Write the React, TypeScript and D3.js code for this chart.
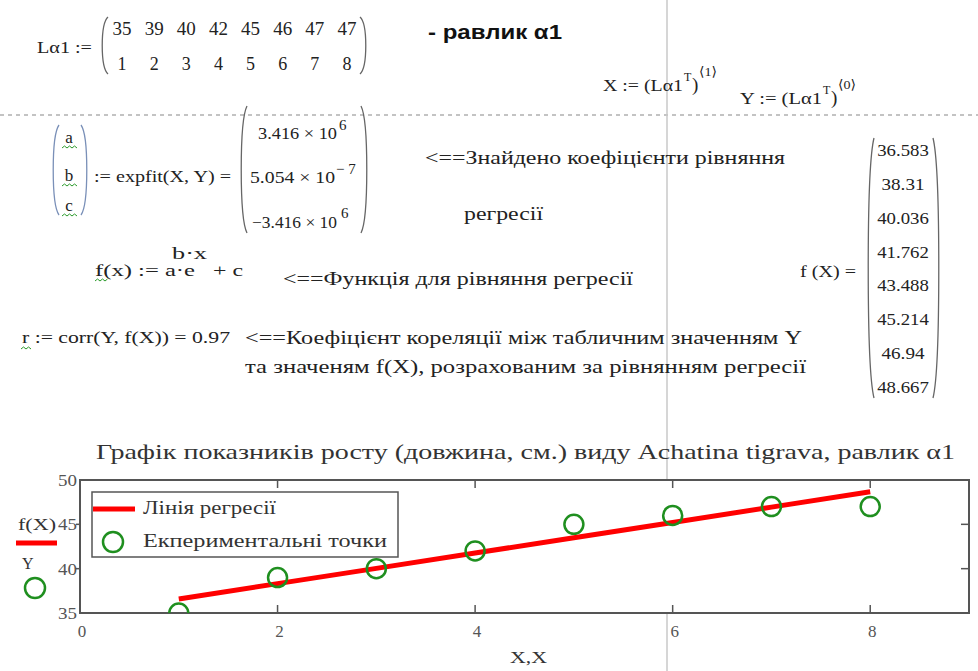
import React from "react";
import * as d3 from "d3";

const xValues = [1, 2, 3, 4, 5, 6, 7, 8];
const yValues = [35, 39, 40, 42, 45, 46, 47, 47];
const fitValues = [36.583, 38.31, 40.036, 41.762, 43.488, 45.214, 46.94, 48.667];
const fitLabels = ["36.583", "38.31", "40.036", "41.762", "43.488", "45.214", "46.94", "48.667"];
const xTicks = [0, 2, 4, 6, 8];
const yTicks = [35, 40, 45, 50];
const coefMantissa = ["3.416 × 10", "5.054 × 10", "\u22123.416 × 10"];
const coefExp = ["6", "\u2212 7", "6"];

const SERIF = "'Liberation Serif', 'DejaVu Serif', serif";
const SANS = "'Liberation Sans', Arial, sans-serif";
const INK = "#222";

function paren(x: number, y0: number, y1: number, left: boolean) {
  const w = left ? 7 : -7;
  const h = y1 - y0;
  return `M${x + w},${y0} C${x - w * 0.1},${y0 + h * 0.12} ${x - w * 0.1},${y1 - h * 0.12} ${x + w},${y1}`;
}

function wavy(x: number, y: number, w: number) {
  let d = `M${x},${y}`;
  const n = Math.round(w / 2.5);
  for (let i = 1; i <= n; i++) d += ` L${x + i * 2.5},${y + (i % 2 ? -2 : 0)}`;
  return d;
}

type TP = {
  x: number;
  y: number;
  s: number;
  len?: number;
  anchor?: "start" | "middle" | "end";
  fill?: string;
  weight?: string;
  family?: string;
  children: React.ReactNode;
};

function T({ x, y, s, len, anchor, fill, weight, family, children }: TP) {
  return (
    <text
      x={x}
      y={y}
      fontSize={s}
      textAnchor={anchor || "start"}
      fill={fill || INK}
      fontWeight={weight}
      fontFamily={family}
      textLength={len}
      lengthAdjust={len ? "spacingAndGlyphs" : undefined}
    >
      {children}
    </text>
  );
}

export default function App() {
  const xs = d3.scaleLinear().domain([0, 9]).range([80, 969]);
  const ys = d3.scaleLinear().domain([35, 50]).range([613, 480]);
  const line = d3
    .line<number>()
    .x((_, i) => xs(xValues[i]))
    .y((d) => ys(d));

  const matCol = d3.scaleLinear().domain([0, 7]).range([122, 347]);
  const fitRow = d3.scaleLinear().domain([0, 7]).range([156, 393]);
  const axisColor = "#555";
  const green = "#1f8f1f";

  return (
    <svg
      width={978}
      height={671}
      style={{ position: "absolute", left: 0, top: 0, background: "#fff" }}
      fontFamily={SERIF}
    >
      <rect x={0} y={0} width={978} height={671} fill="#fff" />

      {/* page separators */}
      <line x1={0} x2={978} y1={115} y2={115} stroke="#b0b0b0" strokeWidth={1.5} strokeDasharray="4,4" />
      <line x1={667} x2={667} y1={0} y2={671} stroke="#c8c8c8" strokeWidth={1.5} />

      {/* L matrix */}
      <T x={37} y={53} s={17} len={55}>Lα1 :=</T>
      <path d={paren(101, 17, 74, true)} fill="none" stroke="#666" strokeWidth={1.3} />
      <path d={paren(367, 17, 74, false)} fill="none" stroke="#666" strokeWidth={1.3} />
      {yValues.map((v, i) => (
        <T key={"r1" + i} x={matCol(i)} y={35} s={18} len={19} anchor="middle">{v}</T>
      ))}
      {xValues.map((v, i) => (
        <T key={"r2" + i} x={matCol(i)} y={70} s={18} anchor="middle">{v}</T>
      ))}

      <T x={428} y={39} s={21} len={134} weight="bold" family={SANS} fill="#111">- равлик α1</T>

      {/* X := (Lα1^T)^<1> */}
      <T x={603} y={91} s={17} len={80}>X := (Lα1</T>
      <T x={684} y={81} s={12}>T</T>
      <T x={692} y={91} s={19}>)</T>
      <T x={699} y={76} s={13} len={18}>⟨1⟩</T>
      {/* Y := (Lα1^T)^<0> */}
      <T x={740} y={104} s={17} len={82}>Y := (Lα1</T>
      <T x={823} y={94} s={12}>T</T>
      <T x={831} y={104} s={19}>)</T>
      <T x={838} y={89} s={13} len={18}>⟨0⟩</T>

      {/* coefficients */}
      <path d={paren(52, 125, 215, true)} fill="none" stroke="#7a90b8" strokeWidth={1.3} />
      <path d={paren(88, 125, 215, false)} fill="none" stroke="#7a90b8" strokeWidth={1.3} />
      {["a", "b", "c"].map((t, i) => (
        <g key={t}>
          <T x={69} y={[143, 181, 211][i]} s={17} anchor="middle">{t}</T>
          <path d={wavy(62, [148, 186, 216][i], 14)} fill="none" stroke="#2a9a2a" strokeWidth={1} />
        </g>
      ))}
      <T x={94} y={182} s={16} len={137}>:= expfit(X, Y) =</T>
      <path d={paren(240, 106, 233, true)} fill="none" stroke="#666" strokeWidth={1.3} />
      <path d={paren(368, 106, 233, false)} fill="none" stroke="#666" strokeWidth={1.3} />
      {coefMantissa.map((m, i) => (
        <g key={"c" + i}>
          <T x={[258, 250, 252][i]} y={[139, 183, 228][i]} s={17} len={[79, 85, 85][i]}>{m}</T>
          <T x={[339, 336, 341][i]} y={[130, 174, 218][i]} s={15}>{coefExp[i]}</T>
        </g>
      ))}

      <T x={425} y={164} s={19} len={360}>&lt;==Знайдено коефіцієнти рівняння</T>
      <T x={464} y={220} s={19} len={79}>регресії</T>

      {/* f(x) */}
      <T x={95} y={276} s={17} len={100}>f(x) := a·e</T>
      <T x={172} y={259} s={16} len={35}>b·x</T>
      <T x={213} y={276} s={17} len={30}>+ c</T>
      <path d={wavy(95, 281, 12)} fill="none" stroke="#2a9a2a" strokeWidth={1} />
      <T x={283} y={285} s={19} len={350}>&lt;==Функція для рівняння регресії</T>

      {/* correlation */}
      <T x={22} y={343} s={16} len={208}>r := corr(Y, f(X)) = 0.97</T>
      <path d={wavy(21, 349, 10)} fill="none" stroke="#2a9a2a" strokeWidth={1} />
      <T x={245} y={344} s={19} len={557}>&lt;==Коефіцієнт  кореляції між табличним значенням Y</T>
      <T x={245} y={373} s={19} len={561}>та   значеням  f(X), розрахованим за рівнянням регресії</T>

      {/* f(X) vector */}
      <T x={800} y={277} s={17} len={56}>f (X) =</T>
      <path d={paren(867, 138, 398, true)} fill="none" stroke="#666" strokeWidth={1.3} />
      <path d={paren(940, 138, 398, false)} fill="none" stroke="#666" strokeWidth={1.3} />
      {fitLabels.map((t, i) => (
        <T key={"f" + i} x={903} y={fitRow(i)} s={16} len={t.length * 8.6} anchor="middle">{t}</T>
      ))}

      {/* chart title */}
      <T x={96} y={459} s={21} len={859} fill="#333">
        Графік показників росту (довжина, см.) виду Achatina tigrava, равлик α1
      </T>

      {/* plot */}
      <defs>
        <clipPath id="plotclip">
          <rect x={xs(0)} y={ys(50)} width={xs(9) - xs(0)} height={ys(35) - ys(50)} />
        </clipPath>
      </defs>
      <rect x={xs(0)} y={ys(50)} width={xs(9) - xs(0)} height={ys(35) - ys(50)} fill="#fff" stroke={axisColor} strokeWidth={2} />
      {xTicks.filter((t) => t > 0).map((t) => (
        <g key={"xt" + t}>
          <line x1={xs(t)} x2={xs(t)} y1={ys(35)} y2={ys(35) - 8} stroke={axisColor} strokeWidth={1.5} />
          <line x1={xs(t)} x2={xs(t)} y1={ys(50)} y2={ys(50) + 8} stroke={axisColor} strokeWidth={1.5} />
        </g>
      ))}
      {yTicks.filter((t) => t > 35 && t < 50).map((t) => (
        <g key={"yt" + t}>
          <line x1={xs(0)} x2={xs(0) - 4} y1={ys(t)} y2={ys(t)} stroke={axisColor} strokeWidth={1.5} />
          <line x1={xs(9)} x2={xs(9) - 8} y1={ys(t)} y2={ys(t)} stroke={axisColor} strokeWidth={1.5} />
        </g>
      ))}
      {xTicks.map((t) => (
        <T key={"xl" + t} x={xs(t) + 2} y={ys(35) + 24} s={17} anchor="middle" fill="#555">{t}</T>
      ))}
      {yTicks.map((t) => (
        <T key={"yl" + t} x={xs(0) - 3} y={ys(t) + 6} s={17} len={19} anchor="end" fill="#555">{t}</T>
      ))}

      <g clipPath="url(#plotclip)">
        <path d={line(fitValues) || ""} fill="none" stroke="#ff0000" strokeWidth={5} />
        {yValues.map((v, i) => (
          <circle key={"p" + i} cx={xs(xValues[i])} cy={ys(v)} r={9.5} fill="none" stroke={green} strokeWidth={2.5} />
        ))}
      </g>

      {/* legend */}
      <rect x={92} y={492} width={306} height={65} fill="#fff" stroke={axisColor} strokeWidth={1.5} />
      <line x1={93} x2={135} y1={509} y2={509} stroke="#ff0000" strokeWidth={5} />
      <T x={143} y={514} s={18} len={133} fill="#333">Лінія регресії</T>
      <circle cx={113} cy={542} r={10} fill="none" stroke={green} strokeWidth={2.5} />
      <T x={143} y={547} s={18} len={244} fill="#333">Екпериментальні точки</T>

      {/* y-axis label */}
      <T x={18} y={530} s={17} len={38} fill="#333">f(X)</T>
      <line x1={16} x2={57} y1={543} y2={543} stroke="#ff0000" strokeWidth={5} />
      <T x={22} y={569} s={16} fill="#333">Y</T>
      <circle cx={35} cy={588} r={10} fill="none" stroke={green} strokeWidth={2.5} />

      {/* x-axis label */}
      <T x={510} y={663} s={17} len={37} fill="#333">X,X</T>
    </svg>
  );
}
